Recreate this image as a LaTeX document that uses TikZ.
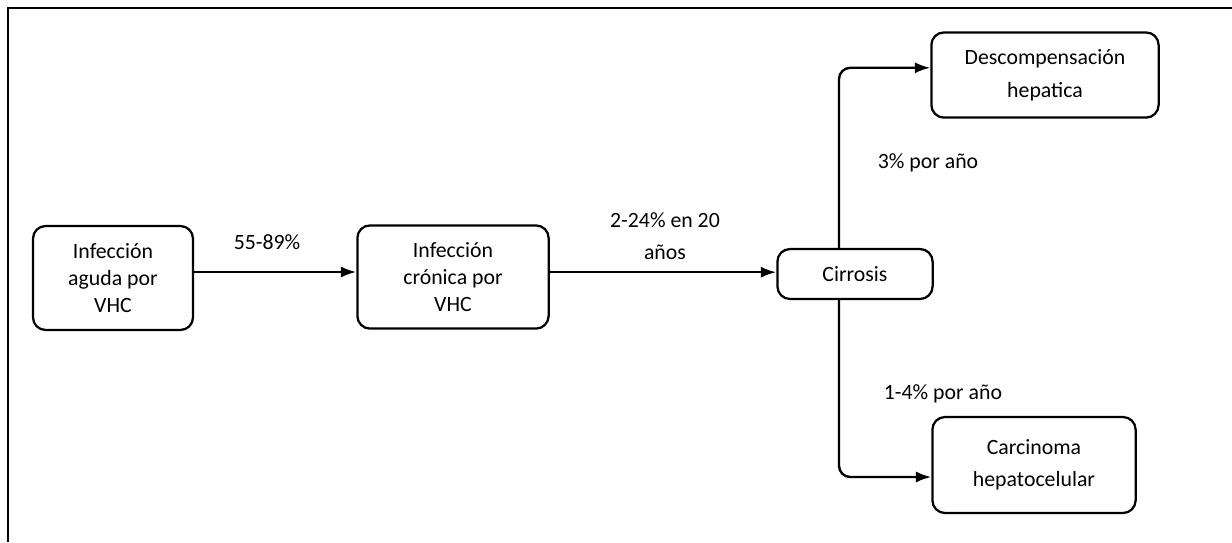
\documentclass[tikz,border=0pt]{standalone}
\usepackage{fontspec}
\setmainfont{Carlito}
\usepackage{tikz}
\usetikzlibrary{positioning,arrows.meta,calc}

\begin{document}
\begin{tikzpicture}[x=0.025cm,y=-0.025cm,
  box/.style={draw,line width=1.6pt,rounded corners=9pt,align=center,
    font=\fontsize{15.5}{19.5}\selectfont,inner sep=2pt},
  lbl/.style={align=center,font=\fontsize{15.5}{23}\selectfont},
  flow/.style={line width=1.7pt,-{Latex[length=11pt,width=8pt]}}]
\useasboundingbox (0,0) rectangle (1232,542);
% partial frame (top and left only)
\draw[line width=1.8pt] (8,542) -- (8,8) -- (1232,8);
% boxes
\node[box,minimum width=4cm,minimum height=2.6cm] (aguda) at (113,278)
  {Infección\\aguda por\\VHC};
\node[box,minimum width=4.78cm,minimum height=2.58cm] (cronica) at (453,277)
  {Infección\\crónica por\\VHC};
\node[box,minimum width=3.88cm,minimum height=1.25cm] (cirrosis) at (855,274)
  {Cirrosis};
\node[box,minimum width=5.68cm,minimum height=2.13cm] (descomp) at (1045,75)
  {Descompensación\\[4pt]hepatica};
\node[box,minimum width=5.08cm,minimum height=2.4cm] (hcc) at (1034,465)
  {Carcinoma\\[3pt]hepatocelular};
% branch point on cirrosis
\coordinate (branch) at (839,274);
% connectors
\draw[flow] ([yshift=0.15cm]aguda.east) -- ([yshift=0.15cm]aguda.east -| cronica.west);
\draw[flow] ([yshift=0.12cm]cronica.east) -- ([yshift=0.12cm]cronica.east -| cirrosis.west);
\draw[flow,rounded corners=8pt] (branch |- cirrosis.north) |- ([yshift=0.18cm]descomp.west);
\draw[flow,rounded corners=8pt] (branch |- cirrosis.south) |- ([yshift=-0.3cm]hcc.west);
% labels
\node[lbl] (l1) at (267,242) {55-89\%};
\node[lbl] (l2) at (665,236) {2-24\% en 20\\años};
\node[lbl] (l3) at (928,163) {3\% por año};
\node[lbl] (l4) at (943,394) {1-4\% por año};
\end{tikzpicture}
\end{document}
